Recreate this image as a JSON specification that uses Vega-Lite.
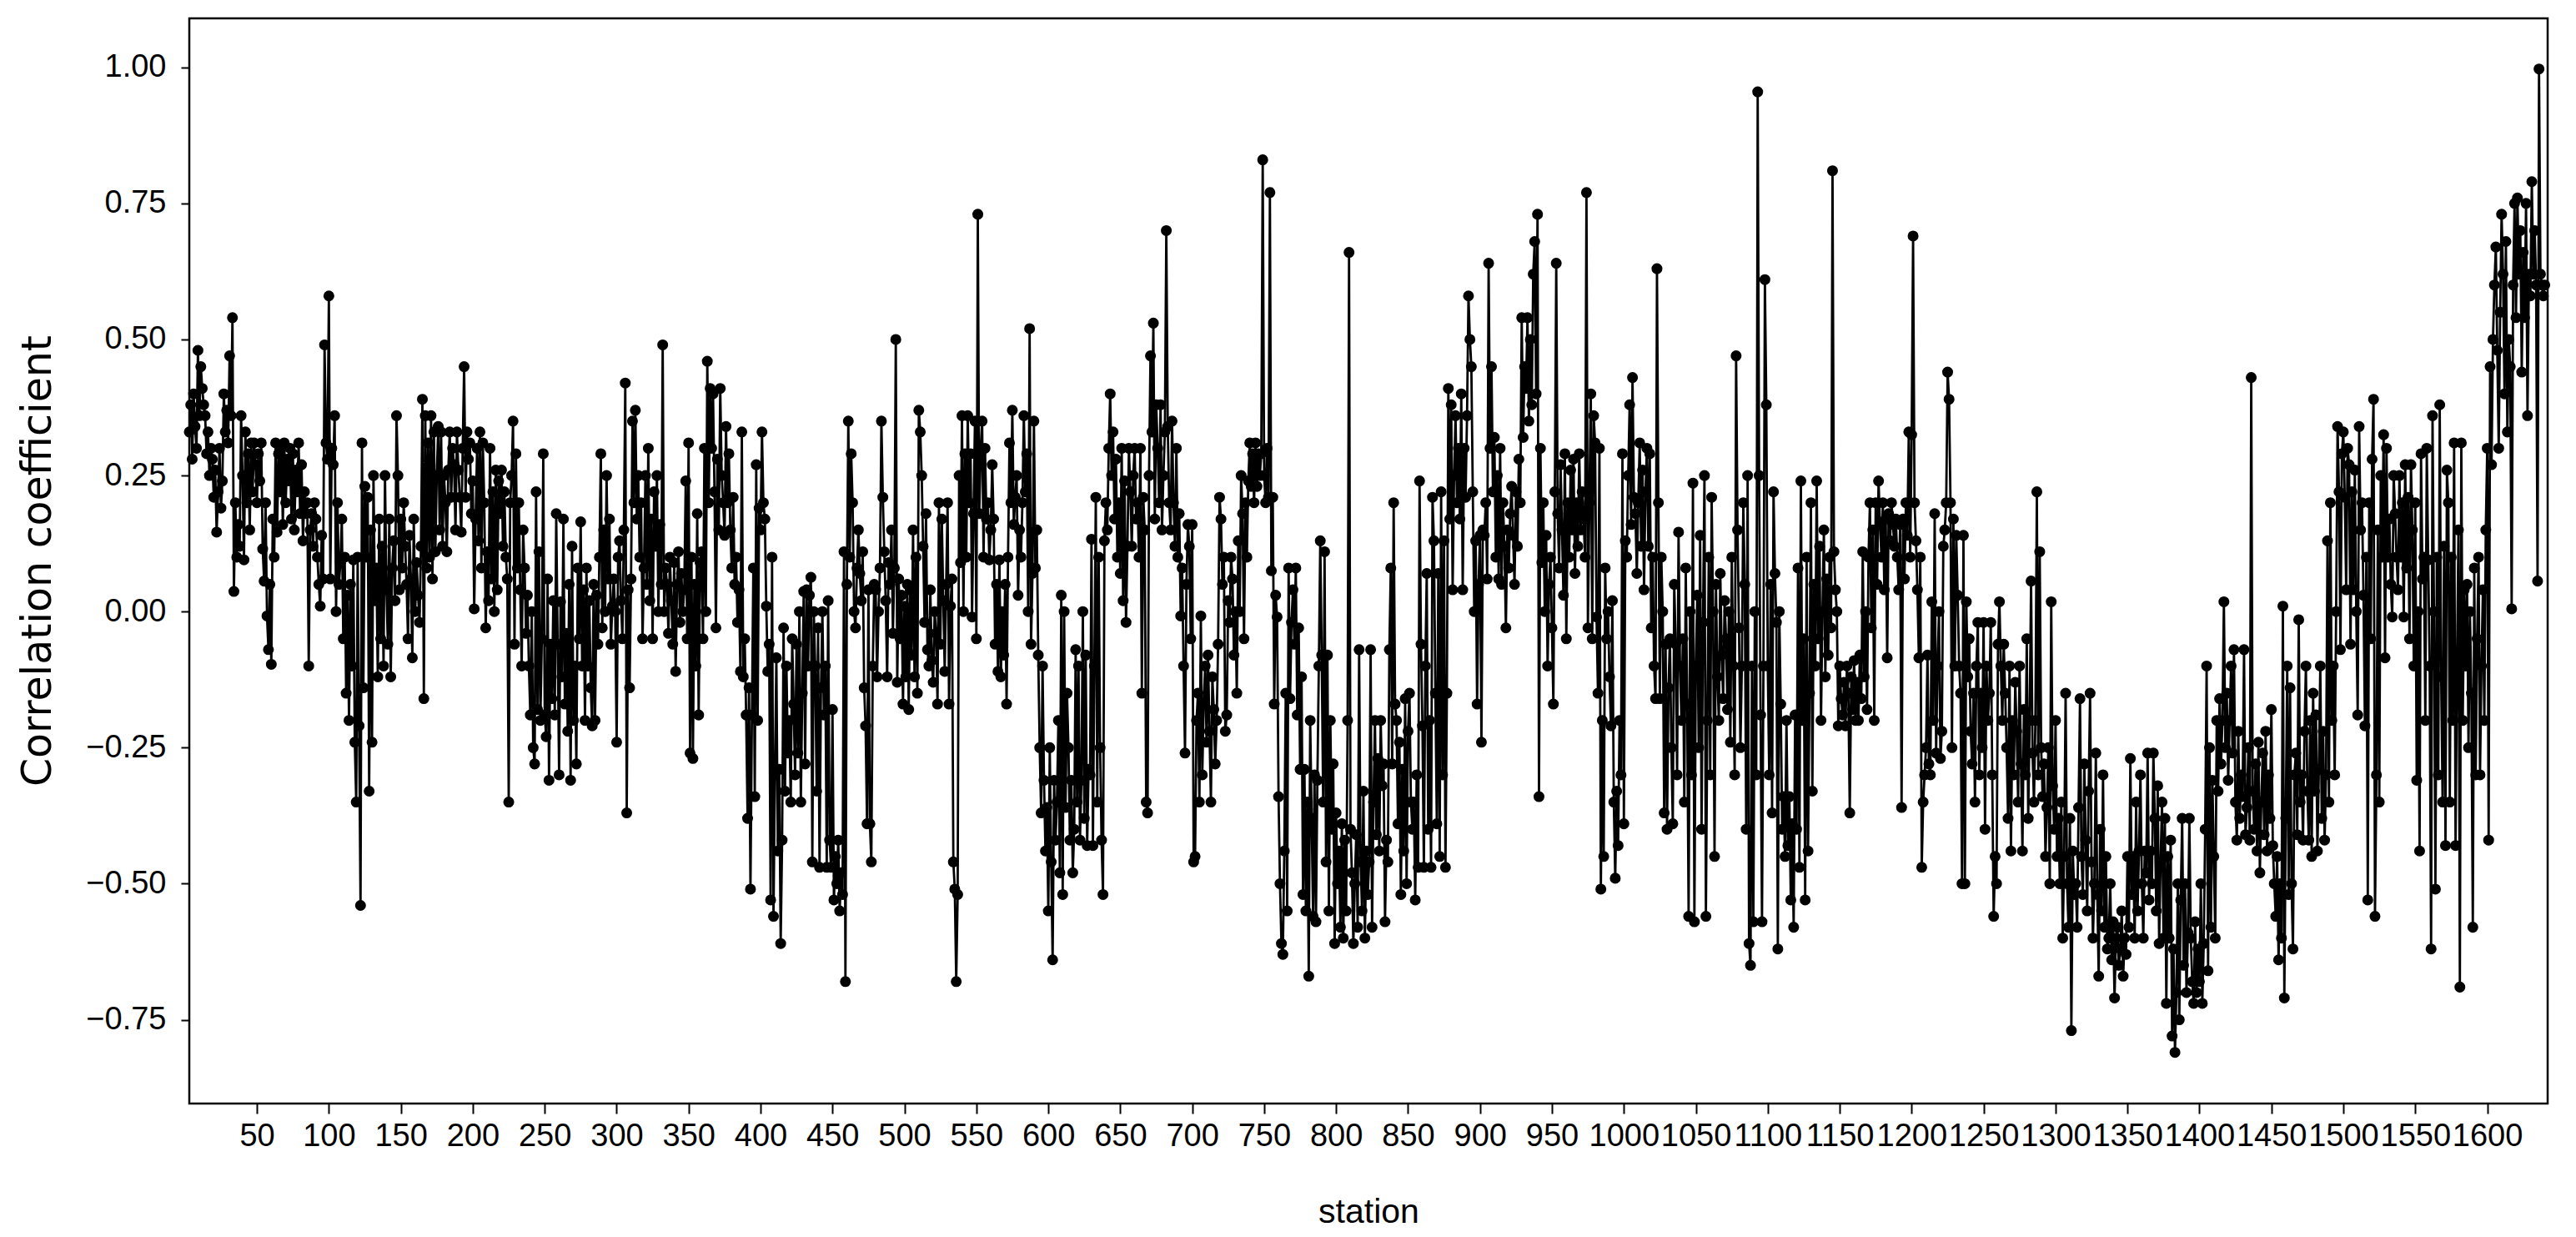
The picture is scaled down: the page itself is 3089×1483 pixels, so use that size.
{
"$schema": "https://vega.github.io/schema/vega-lite/v6.json",
"width": 2828, "height": 1301,
"autosize": {"type": "none"},
"padding": {"left": 227, "top": 22, "right": 34, "bottom": 160},
"background": "white",
"config": {
 "view": {"stroke": "black", "strokeWidth": 2.5},
 "axis": {"domain": false, "grid": false, "tickColor": "black", "tickWidth": 2, "labelColor": "black", "titleColor": "black", "labelFont": "Liberation Sans", "labelFontSize": 38, "titleFont": "Liberation Sans", "titleFontWeight": "normal"}
},
"data": {"values": [
{"station":3,"corr":0.33},{"station":4,"corr":0.38},{"station":5,"corr":0.28},{"station":6,"corr":0.40},{"station":7,"corr":0.34},{"station":8,"corr":0.30},{"station":9,"corr":0.48},{"station":10,"corr":0.36},{"station":11,"corr":0.45},{"station":12,"corr":0.41},
{"station":13,"corr":0.38},{"station":14,"corr":0.36},{"station":15,"corr":0.29},{"station":16,"corr":0.33},{"station":17,"corr":0.25},{"station":18,"corr":0.30},{"station":19,"corr":0.28},{"station":20,"corr":0.21},{"station":21,"corr":0.26},{"station":22,"corr":0.146},
{"station":23,"corr":0.22},{"station":24,"corr":0.30},{"station":25,"corr":0.19},{"station":26,"corr":0.24},{"station":27,"corr":0.40},{"station":28,"corr":0.33},{"station":29,"corr":0.37},{"station":30,"corr":0.31},{"station":31,"corr":0.47},{"station":32,"corr":0.36},
{"station":33,"corr":0.54},{"station":34,"corr":0.037},{"station":35,"corr":0.20},{"station":36,"corr":0.10},{"station":37,"corr":0.16},{"station":38,"corr":0.12},{"station":39,"corr":0.36},{"station":40,"corr":0.25},{"station":41,"corr":0.095},{"station":42,"corr":0.33},
{"station":43,"corr":0.20},{"station":44,"corr":0.29},{"station":45,"corr":0.15},{"station":46,"corr":0.31},{"station":47,"corr":0.22},{"station":48,"corr":0.31},{"station":49,"corr":0.27},{"station":50,"corr":0.20},{"station":51,"corr":0.29},{"station":52,"corr":0.24},
{"station":53,"corr":0.31},{"station":54,"corr":0.115},{"station":55,"corr":0.056},{"station":56,"corr":0.20},{"station":57,"corr":-0.008},{"station":58,"corr":-0.07},{"station":59,"corr":0.05},{"station":60,"corr":-0.097},{"station":61,"corr":0.17},{"station":62,"corr":0.10},
{"station":63,"corr":0.31},{"station":64,"corr":0.146},{"station":65,"corr":0.29},{"station":66,"corr":0.22},{"station":67,"corr":0.30},{"station":68,"corr":0.16},{"station":69,"corr":0.31},{"station":70,"corr":0.20},{"station":71,"corr":0.28},{"station":72,"corr":0.24},
{"station":73,"corr":0.30},{"station":74,"corr":0.17},{"station":75,"corr":0.29},{"station":76,"corr":0.15},{"station":77,"corr":0.26},{"station":78,"corr":0.22},{"station":79,"corr":0.31},{"station":80,"corr":0.18},{"station":81,"corr":0.27},{"station":82,"corr":0.13},
{"station":83,"corr":0.22},{"station":84,"corr":0.18},{"station":85,"corr":0.20},{"station":86,"corr":-0.10},{"station":87,"corr":0.15},{"station":88,"corr":0.18},{"station":89,"corr":0.12},{"station":90,"corr":0.20},{"station":91,"corr":0.17},{"station":92,"corr":0.10},
{"station":93,"corr":0.05},{"station":94,"corr":0.01},{"station":95,"corr":0.14},{"station":96,"corr":0.06},{"station":97,"corr":0.49},{"station":98,"corr":0.31},{"station":99,"corr":0.28},{"station":100,"corr":0.58},{"station":101,"corr":0.06},{"station":102,"corr":0.30},
{"station":103,"corr":0.27},{"station":104,"corr":0.36},{"station":105,"corr":0.00},{"station":106,"corr":0.20},{"station":107,"corr":0.05},{"station":108,"corr":0.09},{"station":109,"corr":0.17},{"station":110,"corr":-0.05},{"station":111,"corr":0.10},{"station":112,"corr":-0.15},
{"station":113,"corr":0.03},{"station":114,"corr":-0.20},{"station":115,"corr":0.05},{"station":116,"corr":-0.10},{"station":117,"corr":0.095},{"station":118,"corr":-0.24},{"station":119,"corr":-0.35},{"station":120,"corr":0.10},{"station":121,"corr":-0.21},{"station":122,"corr":-0.54},
{"station":123,"corr":0.31},{"station":124,"corr":-0.14},{"station":125,"corr":0.23},{"station":126,"corr":0.10},{"station":127,"corr":0.21},{"station":128,"corr":-0.33},{"station":129,"corr":0.15},{"station":130,"corr":-0.24},{"station":131,"corr":0.25},{"station":132,"corr":0.02},
{"station":133,"corr":0.08},{"station":134,"corr":-0.12},{"station":135,"corr":0.17},{"station":136,"corr":-0.05},{"station":137,"corr":0.12},{"station":138,"corr":-0.10},{"station":139,"corr":0.25},{"station":140,"corr":0.04},{"station":141,"corr":-0.06},{"station":142,"corr":0.17},
{"station":143,"corr":-0.12},{"station":144,"corr":0.08},{"station":145,"corr":0.13},{"station":146,"corr":0.02},{"station":147,"corr":0.36},{"station":148,"corr":0.25},{"station":149,"corr":0.04},{"station":150,"corr":0.17},{"station":151,"corr":0.08},{"station":152,"corr":0.20},
{"station":153,"corr":0.12},{"station":154,"corr":0.05},{"station":155,"corr":-0.05},{"station":156,"corr":0.14},{"station":157,"corr":0.06},{"station":158,"corr":-0.085},{"station":159,"corr":0.17},{"station":160,"corr":0.00},{"station":161,"corr":0.09},{"station":162,"corr":0.03},
{"station":163,"corr":-0.02},{"station":164,"corr":0.12},{"station":165,"corr":0.39},{"station":166,"corr":-0.16},{"station":167,"corr":0.36},{"station":168,"corr":0.08},{"station":169,"corr":0.31},{"station":170,"corr":0.10},{"station":171,"corr":0.36},{"station":172,"corr":0.06},
{"station":173,"corr":0.33},{"station":174,"corr":0.11},{"station":175,"corr":0.25},{"station":176,"corr":0.34},{"station":177,"corr":0.15},{"station":178,"corr":0.33},{"station":179,"corr":0.12},{"station":180,"corr":0.25},{"station":181,"corr":0.20},{"station":182,"corr":0.11},
{"station":183,"corr":0.26},{"station":184,"corr":0.33},{"station":185,"corr":0.21},{"station":186,"corr":0.30},{"station":187,"corr":0.27},{"station":188,"corr":0.15},{"station":189,"corr":0.33},{"station":190,"corr":0.26},{"station":191,"corr":0.21},{"station":192,"corr":0.146},
{"station":193,"corr":0.30},{"station":194,"corr":0.45},{"station":195,"corr":0.21},{"station":196,"corr":0.33},{"station":197,"corr":0.28},{"station":198,"corr":0.31},{"station":199,"corr":0.18},{"station":200,"corr":0.24},{"station":201,"corr":0.005},{"station":202,"corr":0.17},
{"station":203,"corr":0.30},{"station":204,"corr":0.13},{"station":205,"corr":0.33},{"station":206,"corr":0.08},{"station":207,"corr":0.31},{"station":208,"corr":0.20},{"station":209,"corr":-0.03},{"station":210,"corr":0.11},{"station":211,"corr":0.02},{"station":212,"corr":0.30},
{"station":213,"corr":0.06},{"station":214,"corr":0.22},{"station":215,"corr":0.00},{"station":216,"corr":0.26},{"station":217,"corr":0.04},{"station":218,"corr":0.24},{"station":219,"corr":0.18},{"station":220,"corr":0.26},{"station":221,"corr":0.12},{"station":222,"corr":0.22},
{"station":223,"corr":0.10},{"station":224,"corr":0.06},{"station":225,"corr":-0.35},{"station":226,"corr":0.20},{"station":227,"corr":0.25},{"station":228,"corr":0.35},{"station":229,"corr":-0.06},{"station":230,"corr":0.29},{"station":231,"corr":0.08},{"station":232,"corr":0.20},
{"station":233,"corr":0.04},{"station":234,"corr":-0.10},{"station":235,"corr":0.15},{"station":236,"corr":0.08},{"station":237,"corr":-0.04},{"station":238,"corr":0.03},{"station":239,"corr":-0.10},{"station":240,"corr":-0.19},{"station":241,"corr":0.00},{"station":242,"corr":-0.25},
{"station":243,"corr":-0.28},{"station":244,"corr":0.22},{"station":245,"corr":-0.18},{"station":246,"corr":0.11},{"station":247,"corr":-0.20},{"station":248,"corr":-0.05},{"station":249,"corr":0.29},{"station":250,"corr":-0.19},{"station":251,"corr":-0.23},{"station":252,"corr":0.06},
{"station":253,"corr":-0.31},{"station":254,"corr":-0.06},{"station":255,"corr":-0.16},{"station":256,"corr":0.02},{"station":257,"corr":-0.19},{"station":258,"corr":0.18},{"station":259,"corr":-0.06},{"station":260,"corr":-0.30},{"station":261,"corr":0.018},{"station":262,"corr":-0.12},
{"station":263,"corr":0.17},{"station":264,"corr":-0.17},{"station":265,"corr":-0.04},{"station":266,"corr":-0.22},{"station":267,"corr":0.05},{"station":268,"corr":-0.31},{"station":269,"corr":0.12},{"station":270,"corr":-0.20},{"station":271,"corr":-0.10},{"station":272,"corr":-0.28},
{"station":273,"corr":0.08},{"station":274,"corr":-0.05},{"station":275,"corr":0.165},{"station":276,"corr":-0.10},{"station":277,"corr":0.04},{"station":278,"corr":-0.20},{"station":279,"corr":0.08},{"station":280,"corr":-0.10},{"station":281,"corr":0.02},{"station":282,"corr":-0.14},
{"station":283,"corr":-0.21},{"station":284,"corr":0.05},{"station":285,"corr":-0.20},{"station":286,"corr":0.03},{"station":287,"corr":-0.06},{"station":288,"corr":0.10},{"station":289,"corr":0.29},{"station":290,"corr":-0.03},{"station":291,"corr":0.15},{"station":292,"corr":0.00},
{"station":293,"corr":0.25},{"station":294,"corr":0.06},{"station":295,"corr":0.17},{"station":296,"corr":-0.06},{"station":297,"corr":0.01},{"station":298,"corr":0.06},{"station":299,"corr":0.00},{"station":300,"corr":-0.24},{"station":301,"corr":0.10},{"station":302,"corr":0.13},
{"station":303,"corr":0.02},{"station":304,"corr":-0.05},{"station":305,"corr":0.15},{"station":306,"corr":0.42},{"station":307,"corr":-0.37},{"station":308,"corr":0.04},{"station":309,"corr":-0.14},{"station":310,"corr":0.06},{"station":311,"corr":0.35},{"station":312,"corr":0.20},
{"station":313,"corr":0.37},{"station":314,"corr":0.17},{"station":315,"corr":0.25},{"station":316,"corr":0.10},{"station":317,"corr":0.20},{"station":318,"corr":-0.05},{"station":319,"corr":0.08},{"station":320,"corr":0.25},{"station":321,"corr":0.05},{"station":322,"corr":0.30},
{"station":323,"corr":0.02},{"station":324,"corr":0.17},{"station":325,"corr":-0.05},{"station":326,"corr":0.22},{"station":327,"corr":0.12},{"station":328,"corr":0.25},{"station":329,"corr":0.00},{"station":330,"corr":0.16},{"station":331,"corr":0.05},{"station":332,"corr":0.49},
{"station":333,"corr":0.00},{"station":334,"corr":0.08},{"station":335,"corr":0.05},{"station":336,"corr":-0.04},{"station":337,"corr":0.10},{"station":338,"corr":0.02},{"station":339,"corr":-0.06},{"station":340,"corr":0.09},{"station":341,"corr":-0.11},{"station":342,"corr":0.05},
{"station":343,"corr":0.11},{"station":344,"corr":-0.02},{"station":345,"corr":0.07},{"station":346,"corr":0.00},{"station":347,"corr":0.04},{"station":348,"corr":0.24},{"station":349,"corr":-0.05},{"station":350,"corr":0.31},{"station":351,"corr":-0.26},{"station":352,"corr":0.10},
{"station":353,"corr":-0.27},{"station":354,"corr":0.05},{"station":355,"corr":-0.10},{"station":356,"corr":0.18},{"station":357,"corr":-0.19},{"station":358,"corr":0.09},{"station":359,"corr":0.11},{"station":360,"corr":-0.05},{"station":361,"corr":0.30},{"station":362,"corr":0.00},
{"station":363,"corr":0.46},{"station":364,"corr":0.20},{"station":365,"corr":0.41},{"station":366,"corr":0.30},{"station":367,"corr":0.40},{"station":368,"corr":0.22},{"station":369,"corr":-0.03},{"station":370,"corr":0.28},{"station":371,"corr":0.15},{"station":372,"corr":0.41},
{"station":373,"corr":0.25},{"station":374,"corr":0.20},{"station":375,"corr":0.14},{"station":376,"corr":0.34},{"station":377,"corr":0.20},{"station":378,"corr":0.29},{"station":379,"corr":0.15},{"station":380,"corr":0.08},{"station":381,"corr":0.21},{"station":382,"corr":0.05},
{"station":383,"corr":0.10},{"station":384,"corr":-0.02},{"station":385,"corr":0.04},{"station":386,"corr":-0.11},{"station":387,"corr":0.33},{"station":388,"corr":-0.12},{"station":389,"corr":-0.05},{"station":390,"corr":-0.19},{"station":391,"corr":-0.38},{"station":392,"corr":-0.14},
{"station":393,"corr":-0.51},{"station":394,"corr":-0.19},{"station":395,"corr":0.08},{"station":396,"corr":-0.34},{"station":397,"corr":0.27},{"station":398,"corr":-0.20},{"station":399,"corr":0.19},{"station":400,"corr":0.15},{"station":401,"corr":0.33},{"station":402,"corr":0.20},
{"station":403,"corr":0.17},{"station":404,"corr":0.01},{"station":405,"corr":-0.11},{"station":406,"corr":-0.06},{"station":407,"corr":-0.53},{"station":408,"corr":0.10},{"station":409,"corr":-0.56},{"station":410,"corr":-0.30},{"station":411,"corr":-0.085},{"station":412,"corr":-0.44},
{"station":413,"corr":-0.29},{"station":414,"corr":-0.61},{"station":415,"corr":-0.42},{"station":416,"corr":-0.03},{"station":417,"corr":-0.33},{"station":418,"corr":-0.10},{"station":419,"corr":-0.26},{"station":420,"corr":-0.20},{"station":421,"corr":-0.35},{"station":422,"corr":-0.05},
{"station":423,"corr":-0.17},{"station":424,"corr":-0.30},{"station":425,"corr":-0.06},{"station":426,"corr":-0.26},{"station":427,"corr":0.00},{"station":428,"corr":-0.35},{"station":429,"corr":-0.15},{"station":430,"corr":0.037},{"station":431,"corr":-0.28},{"station":432,"corr":0.04},
{"station":433,"corr":-0.10},{"station":434,"corr":0.03},{"station":435,"corr":0.063},{"station":436,"corr":-0.46},{"station":437,"corr":0.00},{"station":438,"corr":-0.10},{"station":439,"corr":-0.33},{"station":440,"corr":-0.03},{"station":441,"corr":-0.47},{"station":442,"corr":-0.14},
{"station":443,"corr":0.00},{"station":444,"corr":-0.19},{"station":445,"corr":-0.10},{"station":446,"corr":-0.47},{"station":447,"corr":0.02},{"station":448,"corr":-0.42},{"station":449,"corr":-0.47},{"station":450,"corr":-0.18},{"station":451,"corr":-0.53},{"station":452,"corr":-0.45},
{"station":453,"corr":-0.50},{"station":454,"corr":-0.42},{"station":455,"corr":-0.55},{"station":456,"corr":-0.48},{"station":457,"corr":-0.52},{"station":458,"corr":0.11},{"station":459,"corr":-0.68},{"station":460,"corr":0.05},{"station":461,"corr":0.35},{"station":462,"corr":0.10},
{"station":463,"corr":0.29},{"station":464,"corr":0.20},{"station":465,"corr":0.00},{"station":466,"corr":-0.03},{"station":467,"corr":0.08},{"station":468,"corr":0.15},{"station":469,"corr":0.07},{"station":470,"corr":0.02},{"station":471,"corr":0.11},{"station":472,"corr":-0.14},
{"station":473,"corr":-0.21},{"station":474,"corr":-0.39},{"station":475,"corr":0.04},{"station":476,"corr":-0.39},{"station":477,"corr":-0.46},{"station":478,"corr":-0.10},{"station":479,"corr":0.05},{"station":480,"corr":0.04},{"station":481,"corr":-0.12},{"station":482,"corr":0.00},
{"station":483,"corr":0.08},{"station":484,"corr":0.35},{"station":485,"corr":0.21},{"station":486,"corr":0.11},{"station":487,"corr":0.02},{"station":488,"corr":-0.12},{"station":489,"corr":0.09},{"station":490,"corr":0.05},{"station":491,"corr":0.15},{"station":492,"corr":-0.04},
{"station":493,"corr":0.08},{"station":494,"corr":0.50},{"station":495,"corr":-0.13},{"station":496,"corr":0.06},{"station":497,"corr":-0.05},{"station":498,"corr":0.03},{"station":499,"corr":-0.17},{"station":500,"corr":0.01},{"station":501,"corr":-0.12},{"station":502,"corr":0.05},
{"station":503,"corr":-0.18},{"station":504,"corr":0.04},{"station":505,"corr":-0.08},{"station":506,"corr":0.15},{"station":507,"corr":-0.12},{"station":508,"corr":0.10},{"station":509,"corr":-0.15},{"station":510,"corr":0.37},{"station":511,"corr":0.33},{"station":512,"corr":0.25},
{"station":513,"corr":0.12},{"station":514,"corr":-0.02},{"station":515,"corr":0.18},{"station":516,"corr":-0.07},{"station":517,"corr":-0.10},{"station":518,"corr":0.04},{"station":519,"corr":-0.09},{"station":520,"corr":-0.13},{"station":521,"corr":0.00},{"station":522,"corr":-0.04},
{"station":523,"corr":-0.17},{"station":524,"corr":0.20},{"station":525,"corr":-0.06},{"station":526,"corr":0.17},{"station":527,"corr":0.02},{"station":528,"corr":-0.11},{"station":529,"corr":0.05},{"station":530,"corr":0.20},{"station":531,"corr":-0.17},{"station":532,"corr":0.01},
{"station":533,"corr":0.06},{"station":534,"corr":-0.46},{"station":535,"corr":-0.51},{"station":536,"corr":-0.68},{"station":537,"corr":-0.52},{"station":538,"corr":0.25},{"station":539,"corr":0.09},{"station":540,"corr":0.36},{"station":541,"corr":0.00},{"station":542,"corr":0.29},
{"station":543,"corr":0.10},{"station":544,"corr":0.36},{"station":545,"corr":0.20},{"station":546,"corr":0.29},{"station":547,"corr":-0.01},{"station":548,"corr":0.18},{"station":549,"corr":0.35},{"station":550,"corr":-0.05},{"station":551,"corr":0.73},{"station":552,"corr":0.18},
{"station":553,"corr":0.29},{"station":554,"corr":0.35},{"station":555,"corr":0.10},{"station":556,"corr":0.30},{"station":557,"corr":0.17},{"station":558,"corr":0.20},{"station":559,"corr":0.095},{"station":560,"corr":0.15},{"station":561,"corr":0.27},{"station":562,"corr":0.17},
{"station":563,"corr":-0.06},{"station":564,"corr":0.05},{"station":565,"corr":-0.11},{"station":566,"corr":0.095},{"station":567,"corr":-0.12},{"station":568,"corr":0.00},{"station":569,"corr":-0.08},{"station":570,"corr":0.05},{"station":571,"corr":-0.17},{"station":572,"corr":0.10},
{"station":573,"corr":0.31},{"station":574,"corr":0.20},{"station":575,"corr":0.37},{"station":576,"corr":0.16},{"station":577,"corr":0.21},{"station":578,"corr":0.25},{"station":579,"corr":0.03},{"station":580,"corr":0.15},{"station":581,"corr":0.10},{"station":582,"corr":0.20},
{"station":583,"corr":0.36},{"station":584,"corr":0.22},{"station":585,"corr":0.29},{"station":586,"corr":0.00},{"station":587,"corr":0.52},{"station":588,"corr":-0.06},{"station":589,"corr":0.07},{"station":590,"corr":0.35},{"station":591,"corr":0.08},{"station":592,"corr":0.15},
{"station":593,"corr":-0.08},{"station":594,"corr":-0.25},{"station":595,"corr":-0.37},{"station":596,"corr":-0.10},{"station":597,"corr":-0.31},{"station":598,"corr":-0.44},{"station":599,"corr":-0.36},{"station":600,"corr":-0.55},{"station":601,"corr":-0.25},{"station":602,"corr":-0.46},
{"station":603,"corr":-0.64},{"station":604,"corr":-0.31},{"station":605,"corr":-0.42},{"station":606,"corr":-0.35},{"station":607,"corr":-0.20},{"station":608,"corr":-0.48},{"station":609,"corr":0.03},{"station":610,"corr":-0.52},{"station":611,"corr":0.00},{"station":612,"corr":-0.36},
{"station":613,"corr":-0.15},{"station":614,"corr":-0.25},{"station":615,"corr":-0.42},{"station":616,"corr":-0.31},{"station":617,"corr":-0.48},{"station":618,"corr":-0.40},{"station":619,"corr":-0.07},{"station":620,"corr":-0.35},{"station":621,"corr":-0.10},{"station":622,"corr":-0.42},
{"station":623,"corr":-0.31},{"station":624,"corr":0.00},{"station":625,"corr":-0.38},{"station":626,"corr":-0.08},{"station":627,"corr":-0.43},{"station":628,"corr":-0.29},{"station":629,"corr":-0.30},{"station":630,"corr":0.133},{"station":631,"corr":-0.43},{"station":632,"corr":-0.10},
{"station":633,"corr":0.21},{"station":634,"corr":-0.35},{"station":635,"corr":0.10},{"station":636,"corr":-0.25},{"station":637,"corr":-0.42},{"station":638,"corr":-0.52},{"station":639,"corr":0.13},{"station":640,"corr":0.20},{"station":641,"corr":0.15},{"station":642,"corr":0.30},
{"station":643,"corr":0.40},{"station":644,"corr":0.25},{"station":645,"corr":0.33},{"station":646,"corr":0.17},{"station":647,"corr":0.28},{"station":648,"corr":0.10},{"station":649,"corr":0.20},{"station":650,"corr":0.07},{"station":651,"corr":0.30},{"station":652,"corr":0.02},
{"station":653,"corr":0.24},{"station":654,"corr":-0.02},{"station":655,"corr":0.12},{"station":656,"corr":0.30},{"station":657,"corr":0.22},{"station":658,"corr":0.12},{"station":659,"corr":0.25},{"station":660,"corr":0.30},{"station":661,"corr":0.17},{"station":662,"corr":0.20},
{"station":663,"corr":0.10},{"station":664,"corr":0.30},{"station":665,"corr":-0.15},{"station":666,"corr":0.21},{"station":667,"corr":0.15},{"station":668,"corr":-0.35},{"station":669,"corr":-0.37},{"station":670,"corr":0.25},{"station":671,"corr":0.47},{"station":672,"corr":0.33},
{"station":673,"corr":0.53},{"station":674,"corr":0.17},{"station":675,"corr":0.38},{"station":676,"corr":0.30},{"station":677,"corr":0.20},{"station":678,"corr":0.38},{"station":679,"corr":0.15},{"station":680,"corr":0.25},{"station":681,"corr":0.33},{"station":682,"corr":0.70},
{"station":683,"corr":0.34},{"station":684,"corr":0.20},{"station":685,"corr":0.15},{"station":686,"corr":0.35},{"station":687,"corr":0.20},{"station":688,"corr":0.12},{"station":689,"corr":0.30},{"station":690,"corr":0.10},{"station":691,"corr":0.18},{"station":692,"corr":-0.008},
{"station":693,"corr":0.08},{"station":694,"corr":-0.10},{"station":695,"corr":-0.26},{"station":696,"corr":0.05},{"station":697,"corr":0.16},{"station":698,"corr":0.12},{"station":699,"corr":-0.05},{"station":700,"corr":0.16},{"station":701,"corr":-0.46},{"station":702,"corr":-0.45},
{"station":703,"corr":-0.20},{"station":704,"corr":-0.15},{"station":705,"corr":-0.35},{"station":706,"corr":-0.008},{"station":707,"corr":-0.30},{"station":708,"corr":-0.17},{"station":709,"corr":-0.10},{"station":710,"corr":-0.24},{"station":711,"corr":-0.08},{"station":712,"corr":-0.22},
{"station":713,"corr":-0.35},{"station":714,"corr":-0.12},{"station":715,"corr":-0.18},{"station":716,"corr":-0.28},{"station":717,"corr":-0.20},{"station":718,"corr":-0.06},{"station":719,"corr":0.21},{"station":720,"corr":0.17},{"station":721,"corr":0.05},{"station":722,"corr":0.10},
{"station":723,"corr":-0.22},{"station":724,"corr":-0.19},{"station":725,"corr":0.02},{"station":726,"corr":-0.02},{"station":727,"corr":0.10},{"station":728,"corr":0.06},{"station":729,"corr":-0.08},{"station":730,"corr":0.00},{"station":731,"corr":-0.15},{"station":732,"corr":0.13},
{"station":733,"corr":0.00},{"station":734,"corr":0.25},{"station":735,"corr":0.18},{"station":736,"corr":-0.05},{"station":737,"corr":0.20},{"station":738,"corr":0.10},{"station":739,"corr":0.24},{"station":740,"corr":0.31},{"station":741,"corr":0.23},{"station":742,"corr":0.29},
{"station":743,"corr":0.20},{"station":744,"corr":0.31},{"station":745,"corr":0.23},{"station":746,"corr":0.29},{"station":747,"corr":0.25},{"station":748,"corr":0.29},{"station":749,"corr":0.83},{"station":750,"corr":0.25},{"station":751,"corr":0.20},{"station":752,"corr":0.30},
{"station":753,"corr":0.21},{"station":754,"corr":0.77},{"station":755,"corr":0.075},{"station":756,"corr":0.21},{"station":757,"corr":-0.17},{"station":758,"corr":0.03},{"station":759,"corr":-0.01},{"station":760,"corr":-0.34},{"station":761,"corr":-0.50},{"station":762,"corr":-0.61},
{"station":763,"corr":-0.63},{"station":764,"corr":-0.44},{"station":765,"corr":-0.15},{"station":766,"corr":-0.55},{"station":767,"corr":0.08},{"station":768,"corr":-0.16},{"station":769,"corr":-0.02},{"station":770,"corr":0.04},{"station":771,"corr":-0.06},{"station":772,"corr":0.08},
{"station":773,"corr":-0.19},{"station":774,"corr":-0.03},{"station":775,"corr":-0.29},{"station":776,"corr":-0.12},{"station":777,"corr":-0.52},{"station":778,"corr":-0.29},{"station":779,"corr":-0.55},{"station":780,"corr":-0.35},{"station":781,"corr":-0.67},{"station":782,"corr":-0.20},
{"station":783,"corr":-0.38},{"station":784,"corr":-0.56},{"station":785,"corr":-0.30},{"station":786,"corr":-0.57},{"station":787,"corr":-0.31},{"station":788,"corr":-0.10},{"station":789,"corr":0.13},{"station":790,"corr":-0.08},{"station":791,"corr":-0.35},{"station":792,"corr":0.11},
{"station":793,"corr":-0.46},{"station":794,"corr":-0.08},{"station":795,"corr":-0.55},{"station":796,"corr":-0.20},{"station":797,"corr":-0.40},{"station":798,"corr":-0.28},{"station":799,"corr":-0.61},{"station":800,"corr":-0.37},{"station":801,"corr":-0.50},{"station":802,"corr":-0.44},
{"station":803,"corr":-0.58},{"station":804,"corr":-0.39},{"station":805,"corr":-0.60},{"station":806,"corr":-0.42},{"station":807,"corr":-0.55},{"station":808,"corr":-0.20},{"station":809,"corr":0.66},{"station":810,"corr":-0.40},{"station":811,"corr":-0.48},{"station":812,"corr":-0.61},
{"station":813,"corr":-0.50},{"station":814,"corr":-0.41},{"station":815,"corr":-0.58},{"station":816,"corr":-0.07},{"station":817,"corr":-0.46},{"station":818,"corr":-0.55},{"station":819,"corr":-0.33},{"station":820,"corr":-0.60},{"station":821,"corr":-0.44},{"station":822,"corr":-0.52},
{"station":823,"corr":-0.46},{"station":824,"corr":-0.07},{"station":825,"corr":-0.58},{"station":826,"corr":-0.35},{"station":827,"corr":-0.20},{"station":828,"corr":-0.41},{"station":829,"corr":-0.27},{"station":830,"corr":-0.44},{"station":831,"corr":-0.20},{"station":832,"corr":-0.32},
{"station":833,"corr":-0.28},{"station":834,"corr":-0.57},{"station":835,"corr":-0.42},{"station":836,"corr":-0.46},{"station":837,"corr":-0.07},{"station":838,"corr":0.08},{"station":839,"corr":-0.28},{"station":840,"corr":0.20},{"station":841,"corr":-0.17},{"station":842,"corr":-0.20},
{"station":843,"corr":-0.39},{"station":844,"corr":-0.24},{"station":845,"corr":-0.52},{"station":846,"corr":-0.29},{"station":847,"corr":-0.44},{"station":848,"corr":-0.16},{"station":849,"corr":-0.50},{"station":850,"corr":-0.22},{"station":851,"corr":-0.15},{"station":852,"corr":-0.35},
{"station":853,"corr":-0.40},{"station":854,"corr":-0.35},{"station":855,"corr":-0.53},{"station":856,"corr":-0.30},{"station":857,"corr":-0.47},{"station":858,"corr":0.24},{"station":859,"corr":-0.06},{"station":860,"corr":-0.21},{"station":861,"corr":-0.47},{"station":862,"corr":-0.10},
{"station":863,"corr":0.07},{"station":864,"corr":-0.40},{"station":865,"corr":-0.20},{"station":866,"corr":-0.47},{"station":867,"corr":0.21},{"station":868,"corr":0.13},{"station":869,"corr":-0.15},{"station":870,"corr":-0.39},{"station":871,"corr":0.07},{"station":872,"corr":-0.45},
{"station":873,"corr":0.22},{"station":874,"corr":-0.30},{"station":875,"corr":0.13},{"station":876,"corr":-0.47},{"station":877,"corr":-0.15},{"station":878,"corr":0.41},{"station":879,"corr":0.17},{"station":880,"corr":0.38},{"station":881,"corr":0.04},{"station":882,"corr":0.25},
{"station":883,"corr":0.36},{"station":884,"corr":0.20},{"station":885,"corr":0.30},{"station":886,"corr":0.17},{"station":887,"corr":0.40},{"station":888,"corr":0.04},{"station":889,"corr":0.30},{"station":890,"corr":0.21},{"station":891,"corr":0.36},{"station":892,"corr":0.58},
{"station":893,"corr":0.50},{"station":894,"corr":0.45},{"station":895,"corr":0.22},{"station":896,"corr":0.00},{"station":897,"corr":0.13},{"station":898,"corr":-0.17},{"station":899,"corr":0.05},{"station":900,"corr":0.14},{"station":901,"corr":-0.24},{"station":902,"corr":0.15},
{"station":903,"corr":0.14},{"station":904,"corr":0.20},{"station":905,"corr":0.06},{"station":906,"corr":0.64},{"station":907,"corr":0.30},{"station":908,"corr":0.45},{"station":909,"corr":0.22},{"station":910,"corr":0.32},{"station":911,"corr":0.10},{"station":912,"corr":0.25},
{"station":913,"corr":0.06},{"station":914,"corr":0.30},{"station":915,"corr":0.05},{"station":916,"corr":0.20},{"station":917,"corr":0.12},{"station":918,"corr":-0.03},{"station":919,"corr":0.15},{"station":920,"corr":0.08},{"station":921,"corr":0.18},{"station":922,"corr":0.23},
{"station":923,"corr":0.14},{"station":924,"corr":0.05},{"station":925,"corr":0.22},{"station":926,"corr":0.12},{"station":927,"corr":0.28},{"station":928,"corr":0.20},{"station":929,"corr":0.54},{"station":930,"corr":0.32},{"station":931,"corr":0.45},{"station":932,"corr":0.41},
{"station":933,"corr":0.54},{"station":934,"corr":0.35},{"station":935,"corr":0.50},{"station":936,"corr":0.38},{"station":937,"corr":0.62},{"station":938,"corr":0.68},{"station":939,"corr":0.40},{"station":940,"corr":0.73},{"station":941,"corr":-0.34},{"station":942,"corr":0.30},
{"station":943,"corr":0.09},{"station":944,"corr":0.20},{"station":945,"corr":0.00},{"station":946,"corr":0.14},{"station":947,"corr":-0.10},{"station":948,"corr":0.05},{"station":949,"corr":0.10},{"station":950,"corr":-0.03},{"station":951,"corr":-0.17},{"station":952,"corr":0.22},
{"station":953,"corr":0.64},{"station":954,"corr":0.18},{"station":955,"corr":0.08},{"station":956,"corr":0.27},{"station":957,"corr":0.15},{"station":958,"corr":0.03},{"station":959,"corr":0.29},{"station":960,"corr":-0.05},{"station":961,"corr":0.20},{"station":962,"corr":0.10},
{"station":963,"corr":0.26},{"station":964,"corr":0.15},{"station":965,"corr":0.28},{"station":966,"corr":0.07},{"station":967,"corr":0.20},{"station":968,"corr":0.12},{"station":969,"corr":0.29},{"station":970,"corr":0.15},{"station":971,"corr":0.22},{"station":972,"corr":0.17},
{"station":973,"corr":0.10},{"station":974,"corr":0.77},{"station":975,"corr":-0.03},{"station":976,"corr":0.20},{"station":977,"corr":0.40},{"station":978,"corr":-0.05},{"station":979,"corr":0.36},{"station":980,"corr":0.31},{"station":981,"corr":-0.01},{"station":982,"corr":-0.15},
{"station":983,"corr":0.30},{"station":984,"corr":-0.51},{"station":985,"corr":-0.20},{"station":986,"corr":-0.45},{"station":987,"corr":0.08},{"station":988,"corr":-0.05},{"station":989,"corr":0.00},{"station":990,"corr":-0.12},{"station":991,"corr":-0.21},{"station":992,"corr":0.02},
{"station":993,"corr":-0.35},{"station":994,"corr":-0.49},{"station":995,"corr":-0.33},{"station":996,"corr":-0.43},{"station":997,"corr":-0.20},{"station":998,"corr":-0.30},{"station":999,"corr":0.29},{"station":1000,"corr":-0.39},{"station":1001,"corr":0.13},{"station":1002,"corr":0.10},
{"station":1003,"corr":0.25},{"station":1004,"corr":0.38},{"station":1005,"corr":0.16},{"station":1006,"corr":0.43},{"station":1007,"corr":0.21},{"station":1008,"corr":0.18},{"station":1009,"corr":0.07},{"station":1010,"corr":0.20},{"station":1011,"corr":0.31},{"station":1012,"corr":0.12},
{"station":1013,"corr":0.26},{"station":1014,"corr":0.04},{"station":1015,"corr":0.22},{"station":1016,"corr":0.30},{"station":1017,"corr":0.12},{"station":1018,"corr":0.29},{"station":1019,"corr":-0.03},{"station":1020,"corr":0.10},{"station":1021,"corr":-0.10},{"station":1022,"corr":-0.16},
{"station":1023,"corr":0.63},{"station":1024,"corr":0.20},{"station":1025,"corr":-0.16},{"station":1026,"corr":0.10},{"station":1027,"corr":0.00},{"station":1028,"corr":-0.37},{"station":1029,"corr":-0.06},{"station":1030,"corr":-0.40},{"station":1031,"corr":-0.14},{"station":1032,"corr":-0.05},
{"station":1033,"corr":-0.25},{"station":1034,"corr":-0.39},{"station":1035,"corr":0.05},{"station":1036,"corr":-0.06},{"station":1037,"corr":-0.30},{"station":1038,"corr":0.146},{"station":1039,"corr":-0.10},{"station":1040,"corr":-0.20},{"station":1041,"corr":-0.05},{"station":1042,"corr":-0.35},
{"station":1043,"corr":0.08},{"station":1044,"corr":-0.17},{"station":1045,"corr":-0.56},{"station":1046,"corr":0.00},{"station":1047,"corr":-0.30},{"station":1048,"corr":0.236},{"station":1049,"corr":-0.57},{"station":1050,"corr":-0.10},{"station":1051,"corr":0.03},{"station":1052,"corr":-0.25},
{"station":1053,"corr":0.14},{"station":1054,"corr":-0.40},{"station":1055,"corr":-0.02},{"station":1056,"corr":0.25},{"station":1057,"corr":-0.56},{"station":1058,"corr":-0.20},{"station":1059,"corr":0.10},{"station":1060,"corr":-0.30},{"station":1061,"corr":0.21},{"station":1062,"corr":0.00},
{"station":1063,"corr":-0.45},{"station":1064,"corr":0.05},{"station":1065,"corr":-0.12},{"station":1066,"corr":-0.20},{"station":1067,"corr":0.07},{"station":1068,"corr":-0.08},{"station":1069,"corr":-0.16},{"station":1070,"corr":0.02},{"station":1071,"corr":-0.05},{"station":1072,"corr":-0.18},
{"station":1073,"corr":0.00},{"station":1074,"corr":-0.24},{"station":1075,"corr":0.10},{"station":1076,"corr":-0.10},{"station":1077,"corr":-0.30},{"station":1078,"corr":0.47},{"station":1079,"corr":0.15},{"station":1080,"corr":-0.03},{"station":1081,"corr":-0.25},{"station":1082,"corr":-0.10},
{"station":1083,"corr":0.20},{"station":1084,"corr":0.05},{"station":1085,"corr":-0.40},{"station":1086,"corr":0.25},{"station":1087,"corr":-0.61},{"station":1088,"corr":-0.65},{"station":1089,"corr":-0.10},{"station":1090,"corr":-0.57},{"station":1091,"corr":0.00},{"station":1092,"corr":-0.30},
{"station":1093,"corr":0.955},{"station":1094,"corr":0.25},{"station":1095,"corr":-0.19},{"station":1096,"corr":-0.57},{"station":1097,"corr":-0.10},{"station":1098,"corr":0.61},{"station":1099,"corr":0.38},{"station":1100,"corr":-0.10},{"station":1101,"corr":-0.30},{"station":1102,"corr":0.05},
{"station":1103,"corr":-0.37},{"station":1104,"corr":0.22},{"station":1105,"corr":0.07},{"station":1106,"corr":-0.02},{"station":1107,"corr":-0.62},{"station":1108,"corr":0.00},{"station":1109,"corr":-0.17},{"station":1110,"corr":-0.40},{"station":1111,"corr":-0.34},{"station":1112,"corr":-0.45},
{"station":1113,"corr":-0.20},{"station":1114,"corr":-0.43},{"station":1115,"corr":-0.34},{"station":1116,"corr":-0.53},{"station":1117,"corr":-0.39},{"station":1118,"corr":-0.58},{"station":1119,"corr":-0.19},{"station":1120,"corr":-0.40},{"station":1121,"corr":0.08},{"station":1122,"corr":-0.47},
{"station":1123,"corr":0.24},{"station":1124,"corr":-0.20},{"station":1125,"corr":-0.05},{"station":1126,"corr":-0.53},{"station":1127,"corr":0.10},{"station":1128,"corr":-0.44},{"station":1129,"corr":-0.15},{"station":1130,"corr":0.20},{"station":1131,"corr":-0.33},{"station":1132,"corr":0.05},
{"station":1133,"corr":-0.10},{"station":1134,"corr":0.24},{"station":1135,"corr":-0.05},{"station":1136,"corr":0.12},{"station":1137,"corr":-0.20},{"station":1138,"corr":0.00},{"station":1139,"corr":0.15},{"station":1140,"corr":-0.12},{"station":1141,"corr":0.06},{"station":1142,"corr":-0.08},
{"station":1143,"corr":0.10},{"station":1144,"corr":-0.03},{"station":1145,"corr":0.81},{"station":1146,"corr":0.11},{"station":1147,"corr":0.04},{"station":1148,"corr":0.00},{"station":1149,"corr":-0.21},{"station":1150,"corr":-0.10},{"station":1151,"corr":-0.16},{"station":1152,"corr":-0.19},
{"station":1153,"corr":-0.13},{"station":1154,"corr":-0.21},{"station":1155,"corr":-0.10},{"station":1156,"corr":-0.15},{"station":1157,"corr":-0.37},{"station":1158,"corr":-0.12},{"station":1159,"corr":-0.18},{"station":1160,"corr":-0.09},{"station":1161,"corr":-0.20},{"station":1162,"corr":-0.13},
{"station":1163,"corr":-0.20},{"station":1164,"corr":-0.08},{"station":1165,"corr":-0.16},{"station":1166,"corr":0.11},{"station":1167,"corr":-0.12},{"station":1168,"corr":0.00},{"station":1169,"corr":-0.18},{"station":1170,"corr":0.10},{"station":1171,"corr":0.20},{"station":1172,"corr":-0.03},
{"station":1173,"corr":0.15},{"station":1174,"corr":-0.20},{"station":1175,"corr":0.20},{"station":1176,"corr":0.05},{"station":1177,"corr":0.24},{"station":1178,"corr":0.16},{"station":1179,"corr":0.10},{"station":1180,"corr":0.20},{"station":1181,"corr":0.04},{"station":1182,"corr":0.17},
{"station":1183,"corr":-0.085},{"station":1184,"corr":0.18},{"station":1185,"corr":0.13},{"station":1186,"corr":0.20},{"station":1187,"corr":0.16},{"station":1188,"corr":0.12},{"station":1189,"corr":0.17},{"station":1190,"corr":0.10},{"station":1191,"corr":0.04},{"station":1192,"corr":0.16},
{"station":1193,"corr":-0.36},{"station":1194,"corr":0.17},{"station":1195,"corr":0.06},{"station":1196,"corr":0.20},{"station":1197,"corr":0.14},{"station":1198,"corr":0.33},{"station":1199,"corr":0.10},{"station":1200,"corr":0.325},{"station":1201,"corr":0.69},{"station":1202,"corr":0.20},
{"station":1203,"corr":0.13},{"station":1204,"corr":0.04},{"station":1205,"corr":-0.085},{"station":1206,"corr":0.10},{"station":1207,"corr":-0.47},{"station":1208,"corr":-0.35},{"station":1209,"corr":-0.30},{"station":1210,"corr":-0.25},{"station":1211,"corr":-0.08},{"station":1212,"corr":-0.28},
{"station":1213,"corr":-0.30},{"station":1214,"corr":0.018},{"station":1215,"corr":-0.20},{"station":1216,"corr":0.18},{"station":1217,"corr":-0.26},{"station":1218,"corr":-0.10},{"station":1219,"corr":0.00},{"station":1220,"corr":-0.27},{"station":1221,"corr":-0.22},{"station":1222,"corr":0.12},
{"station":1223,"corr":0.15},{"station":1224,"corr":0.20},{"station":1225,"corr":0.44},{"station":1226,"corr":0.39},{"station":1227,"corr":0.20},{"station":1228,"corr":-0.25},{"station":1229,"corr":0.17},{"station":1230,"corr":-0.10},{"station":1231,"corr":0.14},{"station":1232,"corr":0.03},
{"station":1233,"corr":-0.10},{"station":1234,"corr":-0.15},{"station":1235,"corr":-0.50},{"station":1236,"corr":0.14},{"station":1237,"corr":-0.50},{"station":1238,"corr":0.018},{"station":1239,"corr":-0.12},{"station":1240,"corr":-0.05},{"station":1241,"corr":-0.22},{"station":1242,"corr":-0.28},
{"station":1243,"corr":-0.15},{"station":1244,"corr":-0.35},{"station":1245,"corr":-0.10},{"station":1246,"corr":-0.02},{"station":1247,"corr":-0.30},{"station":1248,"corr":-0.15},{"station":1249,"corr":-0.25},{"station":1250,"corr":-0.02},{"station":1251,"corr":-0.40},{"station":1252,"corr":-0.10},
{"station":1253,"corr":-0.20},{"station":1254,"corr":-0.15},{"station":1255,"corr":-0.02},{"station":1256,"corr":-0.30},{"station":1257,"corr":-0.56},{"station":1258,"corr":-0.45},{"station":1259,"corr":-0.50},{"station":1260,"corr":-0.06},{"station":1261,"corr":0.018},{"station":1262,"corr":-0.10},
{"station":1263,"corr":-0.20},{"station":1264,"corr":-0.06},{"station":1265,"corr":-0.15},{"station":1266,"corr":-0.25},{"station":1267,"corr":-0.38},{"station":1268,"corr":-0.10},{"station":1269,"corr":-0.44},{"station":1270,"corr":-0.20},{"station":1271,"corr":-0.30},{"station":1272,"corr":-0.13},
{"station":1273,"corr":-0.22},{"station":1274,"corr":-0.35},{"station":1275,"corr":-0.10},{"station":1276,"corr":-0.28},{"station":1277,"corr":-0.44},{"station":1278,"corr":-0.18},{"station":1279,"corr":-0.30},{"station":1280,"corr":-0.05},{"station":1281,"corr":-0.38},{"station":1282,"corr":-0.20},
{"station":1283,"corr":0.056},{"station":1284,"corr":-0.26},{"station":1285,"corr":-0.35},{"station":1286,"corr":-0.20},{"station":1287,"corr":0.22},{"station":1288,"corr":-0.30},{"station":1289,"corr":0.11},{"station":1290,"corr":-0.25},{"station":1291,"corr":-0.34},{"station":1292,"corr":-0.28},
{"station":1293,"corr":-0.45},{"station":1294,"corr":-0.36},{"station":1295,"corr":-0.25},{"station":1296,"corr":-0.50},{"station":1297,"corr":0.018},{"station":1298,"corr":-0.32},{"station":1299,"corr":-0.40},{"station":1300,"corr":-0.20},{"station":1301,"corr":-0.45},{"station":1302,"corr":-0.38},
{"station":1303,"corr":-0.50},{"station":1304,"corr":-0.35},{"station":1305,"corr":-0.60},{"station":1306,"corr":-0.45},{"station":1307,"corr":-0.15},{"station":1308,"corr":-0.50},{"station":1309,"corr":-0.58},{"station":1310,"corr":-0.38},{"station":1311,"corr":-0.77},{"station":1312,"corr":-0.44},
{"station":1313,"corr":-0.52},{"station":1314,"corr":-0.50},{"station":1315,"corr":-0.58},{"station":1316,"corr":-0.36},{"station":1317,"corr":-0.16},{"station":1318,"corr":-0.45},{"station":1319,"corr":-0.52},{"station":1320,"corr":-0.28},{"station":1321,"corr":-0.42},{"station":1322,"corr":-0.55},
{"station":1323,"corr":-0.33},{"station":1324,"corr":-0.15},{"station":1325,"corr":-0.46},{"station":1326,"corr":-0.60},{"station":1327,"corr":-0.50},{"station":1328,"corr":-0.26},{"station":1329,"corr":-0.52},{"station":1330,"corr":-0.67},{"station":1331,"corr":-0.40},{"station":1332,"corr":-0.55},
{"station":1333,"corr":-0.30},{"station":1334,"corr":-0.58},{"station":1335,"corr":-0.45},{"station":1336,"corr":-0.62},{"station":1337,"corr":-0.60},{"station":1338,"corr":-0.50},{"station":1339,"corr":-0.64},{"station":1340,"corr":-0.57},{"station":1341,"corr":-0.71},{"station":1342,"corr":-0.60},
{"station":1343,"corr":-0.58},{"station":1344,"corr":-0.65},{"station":1345,"corr":-0.62},{"station":1346,"corr":-0.55},{"station":1347,"corr":-0.67},{"station":1348,"corr":-0.60},{"station":1349,"corr":-0.63},{"station":1350,"corr":-0.45},{"station":1351,"corr":-0.58},{"station":1352,"corr":-0.27},
{"station":1353,"corr":-0.52},{"station":1354,"corr":-0.45},{"station":1355,"corr":-0.60},{"station":1356,"corr":-0.35},{"station":1357,"corr":-0.55},{"station":1358,"corr":-0.44},{"station":1359,"corr":-0.30},{"station":1360,"corr":-0.50},{"station":1361,"corr":-0.60},{"station":1362,"corr":-0.44},
{"station":1363,"corr":-0.48},{"station":1364,"corr":-0.26},{"station":1365,"corr":-0.53},{"station":1366,"corr":-0.44},{"station":1367,"corr":-0.50},{"station":1368,"corr":-0.26},{"station":1369,"corr":-0.38},{"station":1370,"corr":-0.55},{"station":1371,"corr":-0.32},{"station":1372,"corr":-0.61},
{"station":1373,"corr":-0.46},{"station":1374,"corr":-0.35},{"station":1375,"corr":-0.60},{"station":1376,"corr":-0.38},{"station":1377,"corr":-0.72},{"station":1378,"corr":-0.45},{"station":1379,"corr":-0.60},{"station":1380,"corr":-0.42},{"station":1381,"corr":-0.78},{"station":1382,"corr":-0.62},
{"station":1383,"corr":-0.81},{"station":1384,"corr":-0.70},{"station":1385,"corr":-0.50},{"station":1386,"corr":-0.75},{"station":1387,"corr":-0.53},{"station":1388,"corr":-0.38},{"station":1389,"corr":-0.65},{"station":1390,"corr":-0.50},{"station":1391,"corr":-0.70},{"station":1392,"corr":-0.59},
{"station":1393,"corr":-0.38},{"station":1394,"corr":-0.60},{"station":1395,"corr":-0.68},{"station":1396,"corr":-0.72},{"station":1397,"corr":-0.57},{"station":1398,"corr":-0.70},{"station":1399,"corr":-0.62},{"station":1400,"corr":-0.68},{"station":1401,"corr":-0.50},{"station":1402,"corr":-0.72},
{"station":1403,"corr":-0.61},{"station":1404,"corr":-0.40},{"station":1405,"corr":-0.10},{"station":1406,"corr":-0.66},{"station":1407,"corr":-0.25},{"station":1408,"corr":-0.58},{"station":1409,"corr":-0.31},{"station":1410,"corr":-0.45},{"station":1411,"corr":-0.60},{"station":1412,"corr":-0.20},
{"station":1413,"corr":-0.33},{"station":1414,"corr":-0.16},{"station":1415,"corr":-0.28},{"station":1416,"corr":-0.20},{"station":1417,"corr":0.018},{"station":1418,"corr":-0.25},{"station":1419,"corr":-0.15},{"station":1420,"corr":-0.31},{"station":1421,"corr":-0.20},{"station":1422,"corr":-0.10},
{"station":1423,"corr":-0.26},{"station":1424,"corr":-0.07},{"station":1425,"corr":-0.35},{"station":1426,"corr":-0.42},{"station":1427,"corr":-0.22},{"station":1428,"corr":-0.38},{"station":1429,"corr":-0.30},{"station":1430,"corr":-0.34},{"station":1431,"corr":-0.07},{"station":1432,"corr":-0.41},
{"station":1433,"corr":-0.36},{"station":1434,"corr":-0.25},{"station":1435,"corr":-0.42},{"station":1436,"corr":0.43},{"station":1437,"corr":-0.33},{"station":1438,"corr":-0.40},{"station":1439,"corr":-0.28},{"station":1440,"corr":-0.44},{"station":1441,"corr":-0.24},{"station":1442,"corr":-0.48},
{"station":1443,"corr":-0.35},{"station":1444,"corr":-0.26},{"station":1445,"corr":-0.41},{"station":1446,"corr":-0.22},{"station":1447,"corr":-0.44},{"station":1448,"corr":-0.30},{"station":1449,"corr":-0.38},{"station":1450,"corr":-0.18},{"station":1451,"corr":-0.43},{"station":1452,"corr":-0.50},
{"station":1453,"corr":-0.56},{"station":1454,"corr":-0.45},{"station":1455,"corr":-0.64},{"station":1456,"corr":-0.50},{"station":1457,"corr":-0.60},{"station":1458,"corr":0.01},{"station":1459,"corr":-0.71},{"station":1460,"corr":-0.38},{"station":1461,"corr":-0.10},{"station":1462,"corr":-0.52},
{"station":1463,"corr":-0.14},{"station":1464,"corr":-0.50},{"station":1465,"corr":-0.62},{"station":1466,"corr":-0.30},{"station":1467,"corr":-0.26},{"station":1468,"corr":-0.41},{"station":1469,"corr":-0.015},{"station":1470,"corr":-0.35},{"station":1471,"corr":-0.30},{"station":1472,"corr":-0.42},
{"station":1473,"corr":-0.22},{"station":1474,"corr":-0.10},{"station":1475,"corr":-0.33},{"station":1476,"corr":-0.42},{"station":1477,"corr":-0.20},{"station":1478,"corr":-0.45},{"station":1479,"corr":-0.15},{"station":1480,"corr":-0.33},{"station":1481,"corr":-0.19},{"station":1482,"corr":-0.44},
{"station":1483,"corr":-0.29},{"station":1484,"corr":-0.10},{"station":1485,"corr":-0.38},{"station":1486,"corr":-0.22},{"station":1487,"corr":-0.42},{"station":1488,"corr":-0.30},{"station":1489,"corr":0.13},{"station":1490,"corr":-0.35},{"station":1491,"corr":0.20},{"station":1492,"corr":-0.20},
{"station":1493,"corr":-0.10},{"station":1494,"corr":-0.30},{"station":1495,"corr":0.00},{"station":1496,"corr":0.34},{"station":1497,"corr":0.22},{"station":1498,"corr":-0.07},{"station":1499,"corr":0.29},{"station":1500,"corr":0.33},{"station":1501,"corr":0.21},{"station":1502,"corr":0.04},
{"station":1503,"corr":0.30},{"station":1504,"corr":0.27},{"station":1505,"corr":-0.06},{"station":1506,"corr":0.22},{"station":1507,"corr":0.04},{"station":1508,"corr":0.26},{"station":1509,"corr":0.00},{"station":1510,"corr":-0.19},{"station":1511,"corr":0.34},{"station":1512,"corr":0.15},
{"station":1513,"corr":0.20},{"station":1514,"corr":0.03},{"station":1515,"corr":-0.21},{"station":1516,"corr":0.10},{"station":1517,"corr":-0.53},{"station":1518,"corr":0.20},{"station":1519,"corr":-0.05},{"station":1520,"corr":0.28},{"station":1521,"corr":0.39},{"station":1522,"corr":-0.56},
{"station":1523,"corr":-0.30},{"station":1524,"corr":0.15},{"station":1525,"corr":-0.35},{"station":1526,"corr":0.25},{"station":1527,"corr":0.10},{"station":1528,"corr":0.325},{"station":1529,"corr":-0.085},{"station":1530,"corr":0.30},{"station":1531,"corr":0.10},{"station":1532,"corr":0.17},
{"station":1533,"corr":0.05},{"station":1534,"corr":-0.01},{"station":1535,"corr":0.25},{"station":1536,"corr":0.18},{"station":1537,"corr":0.10},{"station":1538,"corr":0.04},{"station":1539,"corr":0.25},{"station":1540,"corr":0.10},{"station":1541,"corr":0.20},{"station":1542,"corr":-0.01},
{"station":1543,"corr":0.27},{"station":1544,"corr":0.08},{"station":1545,"corr":0.21},{"station":1546,"corr":-0.05},{"station":1547,"corr":0.27},{"station":1548,"corr":0.15},{"station":1549,"corr":-0.10},{"station":1550,"corr":0.20},{"station":1551,"corr":-0.31},{"station":1552,"corr":0.00},
{"station":1553,"corr":-0.44},{"station":1554,"corr":0.29},{"station":1555,"corr":0.06},{"station":1556,"corr":0.10},{"station":1557,"corr":-0.20},{"station":1558,"corr":0.30},{"station":1559,"corr":0.095},{"station":1560,"corr":-0.10},{"station":1561,"corr":-0.62},{"station":1562,"corr":0.36},
{"station":1563,"corr":0.00},{"station":1564,"corr":-0.51},{"station":1565,"corr":0.10},{"station":1566,"corr":-0.30},{"station":1567,"corr":0.38},{"station":1568,"corr":-0.12},{"station":1569,"corr":-0.35},{"station":1570,"corr":0.12},{"station":1571,"corr":-0.43},{"station":1572,"corr":0.26},
{"station":1573,"corr":0.20},{"station":1574,"corr":-0.35},{"station":1575,"corr":0.10},{"station":1576,"corr":-0.20},{"station":1577,"corr":0.31},{"station":1578,"corr":-0.43},{"station":1579,"corr":-0.10},{"station":1580,"corr":0.15},{"station":1581,"corr":-0.69},{"station":1582,"corr":0.31},
{"station":1583,"corr":-0.20},{"station":1584,"corr":0.04},{"station":1585,"corr":-0.10},{"station":1586,"corr":0.05},{"station":1587,"corr":-0.25},{"station":1588,"corr":0.00},{"station":1589,"corr":-0.15},{"station":1590,"corr":-0.58},{"station":1591,"corr":0.08},{"station":1592,"corr":-0.30},
{"station":1593,"corr":-0.05},{"station":1594,"corr":0.10},{"station":1595,"corr":-0.30},{"station":1596,"corr":-0.10},{"station":1597,"corr":0.04},{"station":1598,"corr":-0.20},{"station":1599,"corr":0.15},{"station":1600,"corr":0.30},{"station":1601,"corr":-0.42},{"station":1602,"corr":0.45},
{"station":1603,"corr":0.27},{"station":1604,"corr":0.50},{"station":1605,"corr":0.60},{"station":1606,"corr":0.67},{"station":1607,"corr":0.48},{"station":1608,"corr":0.30},{"station":1609,"corr":0.55},{"station":1610,"corr":0.73},{"station":1611,"corr":0.62},{"station":1612,"corr":0.40},
{"station":1613,"corr":0.68},{"station":1614,"corr":0.33},{"station":1615,"corr":0.50},{"station":1616,"corr":0.45},{"station":1617,"corr":0.005},{"station":1618,"corr":0.60},{"station":1619,"corr":0.75},{"station":1620,"corr":0.54},{"station":1621,"corr":0.76},{"station":1622,"corr":0.62},
{"station":1623,"corr":0.70},{"station":1624,"corr":0.44},{"station":1625,"corr":0.66},{"station":1626,"corr":0.54},{"station":1627,"corr":0.75},{"station":1628,"corr":0.36},{"station":1629,"corr":0.62},{"station":1630,"corr":0.58},{"station":1631,"corr":0.79},{"station":1632,"corr":0.62},
{"station":1633,"corr":0.70},{"station":1634,"corr":0.60},{"station":1635,"corr":0.056},{"station":1636,"corr":0.997},{"station":1637,"corr":0.62},{"station":1638,"corr":0.60},{"station":1639,"corr":0.58},{"station":1640,"corr":0.60}
]},
"encoding": {
 "x": {"field": "station", "type": "quantitative",
  "scale": {"domain": [3, 1642], "nice": false, "zero": false},
  "axis": {"values": [50,100,150,200,250,300,350,400,450,500,550,600,650,700,750,800,850,900,950,1000,1050,1100,1150,1200,1250,1300,1350,1400,1450,1500,1550,1600],
   "format": "d",
   "title": "station", "titleFontSize": 41, "titleX": 1414, "titleY": 130, "titleBaseline": "middle",
   "tickSize": 12, "labelPadding": 8, "labelBaseline": "top", "labelOverlap": false, "labelFlush": false}},
 "y": {"field": "corr", "type": "quantitative",
  "scale": {"domain": [-0.904, 1.09], "nice": false, "zero": false},
  "axis": {"values": [-0.75,-0.5,-0.25,0,0.25,0.5,0.75,1.0], "format": ".2f",
   "title": "Correlation coefficient", "titleFont": "DejaVu Sans", "titleFontSize": 49, "titleAngle": -90, "titleX": -182, "titleY": 650, "titleBaseline": "middle", "titleAlign": "center",
   "tickSize": 10, "labelPadding": 18}}
},
"layer": [
 {"mark": {"type": "line", "color": "black", "strokeWidth": 2.8}},
 {"mark": {"type": "point", "filled": true, "color": "black", "opacity": 1, "size": 170, "shape": "circle"}}
]
}
